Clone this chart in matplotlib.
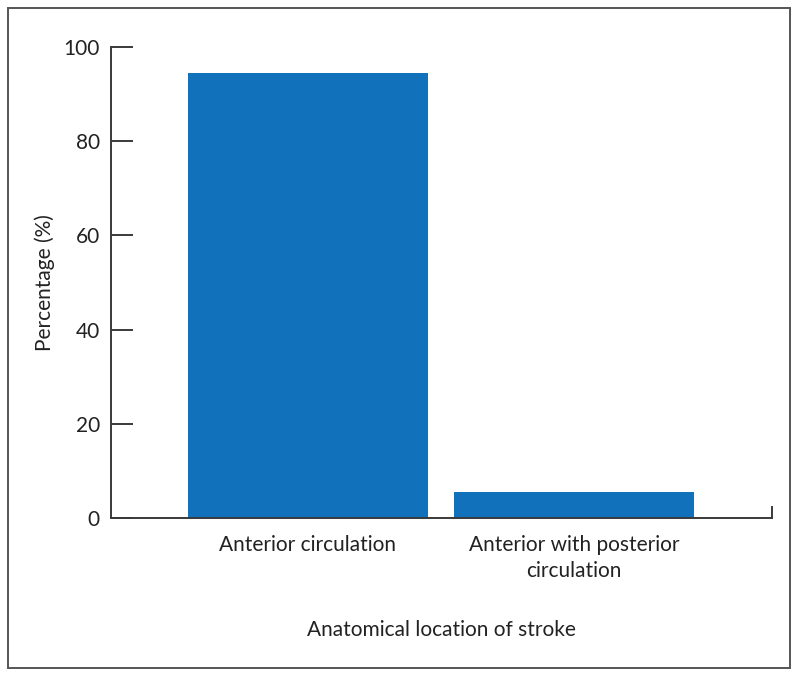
import matplotlib
matplotlib.use("Agg")
import matplotlib.pyplot as plt
from matplotlib.patches import Rectangle

# Data
categories = ["Anterior circulation", "Anterior with posterior\ncirculation"]
percentages = [94.5, 5.5]
y_ticks = [0, 20, 40, 60, 80, 100]

plt.rcParams['font.family'] = ['Lato', 'DejaVu Sans']

axis_color = '#3a3a3a'
bar_color = '#1271bb'
text_color = '#222222'

fig = plt.figure(figsize=(7.99, 6.77), dpi=100)
ax = fig.add_axes([111 / 799, 1 - 518 / 677, (772 - 111) / 799, (518 - 47) / 677])

positions = list(range(len(categories)))
ax.bar(positions, percentages, width=0.9, color=bar_color, zorder=2)

ax.set_xlim(-0.74, 1.745)
ax.set_ylim(0, 100)
ax.set_yticks(y_ticks)
ax.set_xticks(positions)
ax.set_xticklabels(categories, fontsize=15, color=text_color, linespacing=1.4)
ax.tick_params(axis='x', length=0, pad=12)
ax.tick_params(axis='y', direction='in', length=16, width=1.4, color=axis_color,
               labelsize=15, labelcolor=text_color, pad=8)

for side in ('top', 'right'):
    ax.spines[side].set_visible(False)
for side in ('left', 'bottom'):
    ax.spines[side].set_color(axis_color)
    ax.spines[side].set_linewidth(1.4)

# small upward tick at the right end of the x axis
ax.axvline(ax.get_xlim()[1], ymin=0, ymax=11 / 471, color=axis_color, lw=1.4, clip_on=False)

ax.set_ylabel("Percentage (%)", fontsize=15, color=text_color, labelpad=6)
ax.set_xlabel("Anatomical location of stroke", fontsize=15, color=text_color, labelpad=28)

# outer frame around the figure
fig.patches.append(Rectangle((7.5 / 799, 1 - 668 / 677), (790 - 7.5) / 799, (668 - 8) / 677,
                             transform=fig.transFigure, fill=False,
                             edgecolor='#555555', lw=1.4))

fig.savefig("out.png", dpi=100)
